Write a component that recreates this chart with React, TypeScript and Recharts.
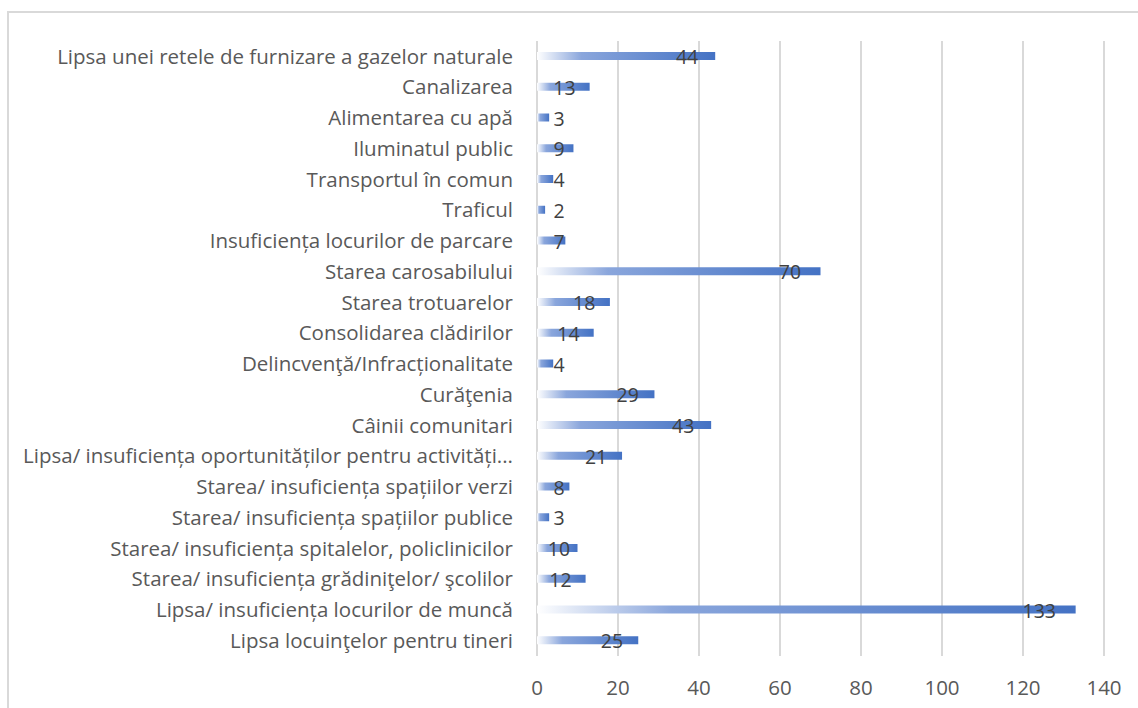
import { Bar, BarChart, CartesianGrid, LabelList, XAxis, YAxis } from 'recharts';

const categories = [
  'Lipsa unei retele de furnizare a gazelor naturale',
  'Canalizarea',
  'Alimentarea cu apă',
  'Iluminatul public',
  'Transportul în comun',
  'Traficul',
  'Insuficiența locurilor de parcare',
  'Starea carosabilului',
  'Starea trotuarelor',
  'Consolidarea clădirilor',
  'Delincvenţă/Infracționalitate',
  'Curăţenia',
  'Câinii comunitari',
  'Lipsa/ insuficiența oportunităților pentru activități...',
  'Starea/ insuficiența spațiilor verzi',
  'Starea/ insuficiența spațiilor publice',
  'Starea/ insuficiența spitalelor, policlinicilor',
  'Starea/ insuficiența grădiniţelor/ şcolilor',
  'Lipsa/ insuficiența locurilor de muncă',
  'Lipsa locuinţelor pentru tineri',
];

const counts = [44, 13, 3, 9, 4, 2, 7, 70, 18, 14, 4, 29, 43, 21, 8, 3, 10, 12, 133, 25];

const xTicks = [0, 20, 40, 60, 80, 100, 120, 140];

const FONT = '"Open Sans", sans-serif';

// value label sits a bit inside the bar end, but never closer than 22px to zero
function ValueLabel(props: any) {
  const { x, y, width, height, value } = props;
  const cx = Math.max(x + 22, x + width * 0.977 - 24);
  return (
    <text
      x={cx}
      y={y + height / 2 + 8}
      textAnchor="middle"
      fill="#404040"
      fontSize={19.5}
      fontFamily={FONT}
    >
      {value}
    </text>
  );
}

export default function App() {
  const data = categories.map((name, i) => ({ name, value: counts[i] }));

  return (
    <div style={{ position: 'absolute', left: 0, top: 0, width: 1138, height: 708, background: '#fff', overflow: 'hidden' }}>
      <div
        style={{
          position: 'absolute',
          left: 7,
          top: 11,
          width: 1200,
          height: 800,
          border: '2px solid #d9d9d9',
        }}
      />
      <div style={{ position: 'absolute', left: 0, top: 0 }}>
        <BarChart
          layout="vertical"
          width={1138}
          height={708}
          data={data}
          margin={{ top: 41, right: 34, left: 0, bottom: 22 }}
          barSize={8}
        >
          <defs>
            <linearGradient id="barFade" x1="0" y1="0" x2="1" y2="0">
              <stop offset="0" stopColor="#ffffff" />
              <stop offset="0.25" stopColor="#8aa6dc" />
              <stop offset="1" stopColor="#4472c4" />
            </linearGradient>
          </defs>
          <CartesianGrid horizontal={false} stroke="#d9d9d9" strokeWidth={2} />
          <XAxis
            type="number"
            domain={[0, 140]}
            ticks={xTicks}
            axisLine={false}
            tickLine={false}
            tickMargin={18}
            tick={{ fill: '#595959', fontSize: 20.5, fontFamily: FONT }}
          />
          <YAxis
            type="category"
            dataKey="name"
            width={537}
            axisLine={false}
            tickLine={false}
            tickMargin={18}
            interval={0}
            tick={{ fill: '#595959', fontSize: 20.5, fontFamily: FONT }}
          />
          <Bar dataKey="value" fill="url(#barFade)" isAnimationActive={false}>
            <LabelList dataKey="value" content={ValueLabel} />
          </Bar>
        </BarChart>
      </div>
    </div>
  );
}
